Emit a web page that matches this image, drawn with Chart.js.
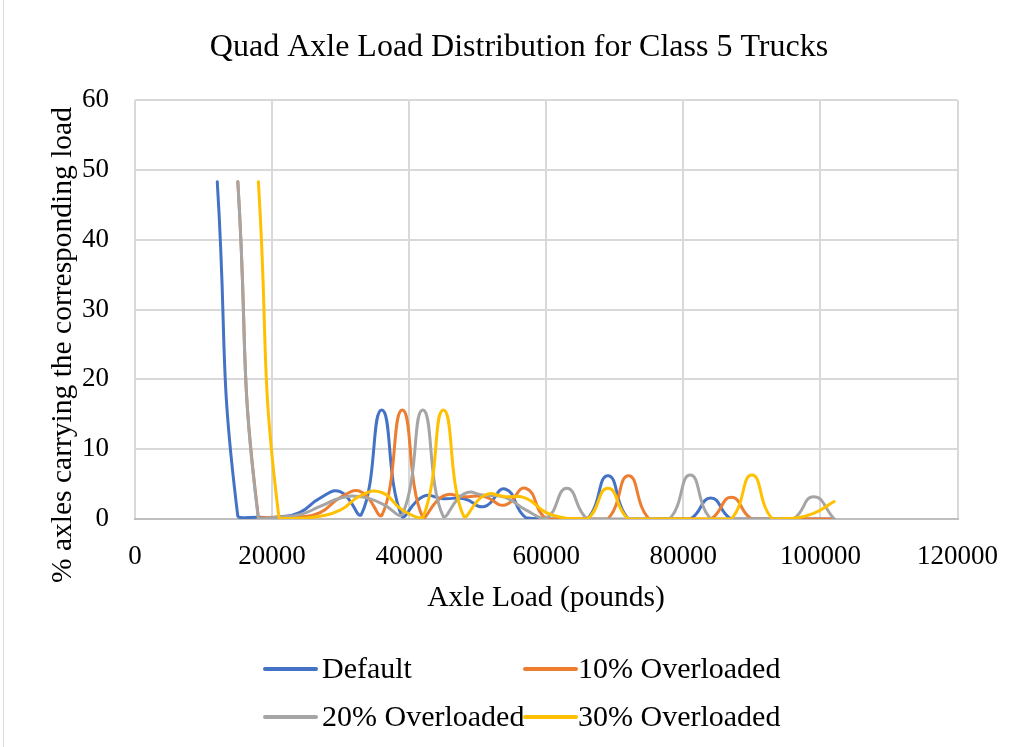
<!DOCTYPE html>
<html>
<head>
<meta charset="utf-8">
<title>Quad Axle Load Distribution for Class 5 Trucks</title>
<script src="https://cdn.jsdelivr.net/npm/chart.js@4/dist/chart.umd.min.js"></script>
<style>
  html, body { margin: 0; padding: 0; background: #ffffff; }
  #wrap { position: relative; width: 1020px; height: 747px; }
</style>
</head>
<body>
<div id="wrap"><canvas id="chart" width="1020" height="747"></canvas></div>
<script>
// Axle load bins (pounds) for each scenario
const defaultLoads = [12000, 15000, 18000, 21000, 24000, 27000, 30000, 33000, 36000, 39000, 42000,
  45000, 48000, 51000, 54000, 57000, 60000, 63000, 66000, 69000, 72000, 75000, 78000, 81000,
  84000, 87000, 90000, 93000, 96000, 99000, 102000];
const over10Loads = [15000, 18000, 21000, 24000, 27000, 30000, 33000, 36000, 39000, 42000,
  45000, 48000, 51000, 54000, 57000, 60000, 63000, 66000, 69000, 72000, 75000, 78000, 81000,
  84000, 87000, 90000, 93000, 96000, 99000, 102000];
const over20Loads = [15000, 18000, 21000, 24000, 27000, 30000, 33000, 36000, 39000, 42000,
  45000, 48000, 51000, 54000, 57000, 60000, 63000, 66000, 69000, 72000, 75000, 78000, 81000,
  84000, 87000, 90000, 93000, 96000, 99000, 102000];
const over30Loads = [18000, 21000, 24000, 27000, 30000, 33000, 36000, 39000, 42000,
  45000, 48000, 51000, 54000, 57000, 60000, 63000, 66000, 69000, 72000, 75000, 78000, 81000,
  84000, 87000, 90000, 93000, 96000, 99000, 102000];

// % of axles carrying each load
const defaultPct = [48.3, 0.4, 0.25, 0.3, 0.9, 3.0, 3.9, 0.6, 15.6, 0.3, 3.2,
  2.9, 2.9, 1.8, 4.3, 0.2, 0, 0, 0, 6.2, 0, 0, 0, 0,
  3.0, 0, 0, 0, 0, 0, 0];
const over10Pct = [48.3, 0.3, 0.3, 0.3, 0.9, 3.1, 3.9, 0.5, 15.6, 0.2,
  3.3, 3.2, 3.2, 2.0, 4.4, 0, 0, 0, 0, 6.2, 0, 0, 0,
  0, 3.1, 0, 0, 0, 0, 0];
const over20Pct = [48.3, 0, 0.3, 0.6, 1.8, 3.0, 3.2, 2.2, 0.6, 15.6,
  0.3, 3.6, 3.4, 3.1, 1.3, 0.1, 4.4, 0, 0, 0, 0, 0, 6.3,
  0, 0, 0, 0, 0, 3.2, 0];
const over30Pct = [48.3, 0.2, 0.1, 0.4, 1.3, 3.4, 3.8, 1.3, 0.2,
  15.6, 0.3, 3.4, 3.2, 3.0, 0.9, 0.1, 0, 4.4, 0, 0, 0, 0,
  0, 0, 6.3, 0, 0.1, 0.8, 2.5];

const seriesNames = ['Default', '10% Overloaded', '20% Overloaded', '30% Overloaded'];
const seriesColors = ['#4472C4', '#ED7D31', '#A5A5A5', '#FFC000'];

const xTicks = [0, 20000, 40000, 60000, 80000, 100000, 120000];
const yTicks = [0, 10, 20, 30, 40, 50, 60];

const chartTitle = 'Quad Axle Load Distribution for Class 5 Trucks';
const xTitle = 'Axle Load (pounds)';
const yTitle = '% axles carrying the corresponding load';

const FONT = '"Liberation Serif", "Times New Roman", serif';

function toPoints(xs, ys) {
  return xs.map((x, i) => ({ x: x, y: ys[i] }));
}

const pairs = [
  [defaultLoads, defaultPct],
  [over10Loads, over10Pct],
  [over20Loads, over20Pct],
  [over30Loads, over30Pct]
];

const datasets = pairs.map((p, i) => ({
  label: seriesNames[i],
  data: toPoints(p[0], p[1]),
  borderColor: seriesColors[i],
  backgroundColor: seriesColors[i],
  borderWidth: 3,
  showLine: true,
  pointRadius: 0,
  pointHoverRadius: 0,
  tension: 0.5,
  borderCapStyle: 'round',
  borderJoinStyle: 'round',
  order: 4 - i
}));

// Title, axis titles, legend and frame drawn around the plot area
const decorPlugin = {
  id: 'decor',
  afterDraw(chart) {
    const ctx = chart.ctx;
    ctx.save();

    // outer frame edge
    ctx.strokeStyle = '#d9d9d9';
    ctx.lineWidth = 1;
    ctx.beginPath();
    ctx.moveTo(3.5, 0);
    ctx.lineTo(3.5, 747);
    ctx.stroke();

    ctx.fillStyle = '#000000';
    ctx.textBaseline = 'middle';

    // chart title
    ctx.font = '32px ' + FONT;
    ctx.textAlign = 'center';
    ctx.fillText(chartTitle, 519, 48);

    // x axis title
    ctx.font = '29.5px ' + FONT;
    ctx.fillText(xTitle, 546, 598);

    // y axis title
    ctx.save();
    ctx.translate(63, 345);
    ctx.rotate(-Math.PI / 2);
    ctx.fillText(yTitle, 0, 0);
    ctx.restore();

    // legend: two rows, two columns
    const legendPos = [
      { x: 265, tx: 322, y: 669 }, { x: 525, tx: 578, y: 669 },
      { x: 265, tx: 322, y: 717 }, { x: 525, tx: 578, y: 717 }
    ];
    ctx.font = '30px ' + FONT;
    ctx.textAlign = 'left';
    chart.data.datasets.forEach((ds, i) => {
      const p = legendPos[i];
      ctx.strokeStyle = ds.borderColor;
      ctx.lineWidth = 4;
      ctx.lineCap = 'round';
      ctx.beginPath();
      ctx.moveTo(p.x, p.y);
      ctx.lineTo(p.x + 51, p.y);
      ctx.stroke();
      ctx.fillStyle = '#000000';
      ctx.fillText(ds.label, p.tx, p.y + 1);
    });

    ctx.restore();
  }
};

new Chart(document.getElementById('chart'), {
  type: 'scatter',
  data: { datasets: datasets },
  options: {
    responsive: false,
    animation: false,
    events: [],
    layout: { padding: { left: 0, right: 62, top: 100, bottom: 0 } },
    plugins: {
      legend: { display: false },
      title: { display: false },
      tooltip: { enabled: false }
    },
    scales: {
      x: {
        type: 'linear',
        min: 0,
        max: 120000,
        afterBuildTicks(scale) {
          scale.ticks = xTicks.map(v => ({ value: v }));
        },
        afterFit(scale) { scale.height = 228; },
        grid: { color: '#d9d9d9', lineWidth: 2, drawTicks: false },
        border: { display: true, color: '#bfbfbf', width: 2 },
        ticks: {
          padding: 22,
          color: '#000000',
          font: { family: FONT, size: 27 },
          maxRotation: 0,
          callback: v => String(v)
        }
      },
      y: {
        type: 'linear',
        min: 0,
        max: 60,
        afterBuildTicks(scale) {
          scale.ticks = yTicks.map(v => ({ value: v }));
        },
        afterFit(scale) { scale.width = 135; },
        grid: { color: '#d9d9d9', lineWidth: 2, drawTicks: false },
        border: { display: false },
        ticks: {
          padding: 26,
          color: '#000000',
          font: { family: FONT, size: 27 },
          callback: v => String(v)
        }
      }
    }
  },
  plugins: [decorPlugin]
});
</script>
</body>
</html>
